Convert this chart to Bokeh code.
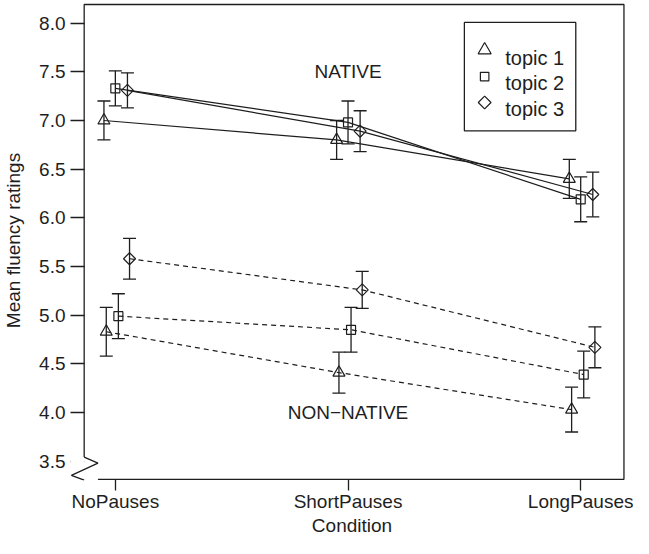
import math
from bokeh.plotting import figure
from bokeh.models import (ColumnDataSource, Whisker, TeeHead, Label, FixedTicker,
                          NumeralTickFormatter, Range1d, BoxAnnotation)
from bokeh.core.properties import value
from bokeh.embed import file_html
from bokeh.resources import INLINE

# ---------------- data ----------------
conditions = ["NoPauses", "ShortPauses", "LongPauses"]
topics = ["topic 1", "topic 2", "topic 3"]

native_topic1 = [7.00, 6.80, 6.40]
native_topic2 = [7.33, 6.98, 6.19]
native_topic3 = [7.31, 6.89, 6.24]
native_err1 = [0.20, 0.20, 0.20]
native_err2 = [0.18, 0.22, 0.23]
native_err3 = [0.18, 0.21, 0.23]

nonnative_topic1 = [4.83, 4.41, 4.03]
nonnative_topic2 = [4.99, 4.85, 4.39]
nonnative_topic3 = [5.58, 5.26, 4.67]
nonnative_err1 = [0.25, 0.21, 0.23]
nonnative_err2 = [0.23, 0.23, 0.24]
nonnative_err3 = [0.21, 0.19, 0.21]

y_ticks = [3.5, 4.0, 4.5, 5.0, 5.5, 6.0, 6.5, 7.0, 7.5, 8.0]
group_labels = ["NATIVE", "NON\u2212NATIVE"]

# ---------------- layout ----------------
W, H = 633, 538
SX, OX = 0.9867, -3.13            # reference px -> canvas px (horizontal)
SY, OY = 0.9969, -1.98            # reference px -> canvas px (vertical)
FL, FR, FT, FB = 68, 633, 0, 480  # frame edges in canvas px
INK = "#1e1e1e"
FONT = "Liberation Sans"
FS = "19px"


def rx(px):   # reference px -> data x
    return 1 + (px - 117.7) / 236.65


def ry(py):   # reference px -> data y
    return 4.0 - (py - 415.3) / 97.65


def cx_to_ref(c):
    return (c - OX) / SX


def cy_to_ref(c):
    return (c - OY) / SY


p = figure(width=W, height=H,
           x_range=Range1d(rx(cx_to_ref(FL)), rx(cx_to_ref(FR))),
           y_range=Range1d(ry(cy_to_ref(FB)), ry(cy_to_ref(FT))),
           output_backend="svg", toolbar_location=None,
           min_border_left=FL, min_border_right=W - FR,
           min_border_top=FT, min_border_bottom=H - FB)
p.outline_line_color = None
p.xgrid.visible = False
p.ygrid.visible = False
p.background_fill_color = "white"
p.border_fill_color = "white"

# axes
xa = p.xaxis[0]
xa.ticker = FixedTicker(ticks=[i + 1 for i in range(len(conditions))])
xa.major_label_overrides = {i + 1: c for i, c in enumerate(conditions)}
xa.major_tick_in = 1
xa.major_tick_out = 10
xa.minor_tick_line_color = None
xa.axis_line_color = None
xa.major_label_standoff = 0
xa.axis_label = "Condition"
xa.axis_label_standoff = 0

ya = p.yaxis[0]
ya.ticker = FixedTicker(ticks=y_ticks)
ya.formatter = NumeralTickFormatter(format="0.0")
ya.major_tick_in = 14
ya.major_tick_out = 0
ya.minor_tick_line_color = None
ya.axis_line_color = None
ya.major_label_standoff = 5
ya.axis_label = "Mean fluency ratings"
ya.axis_label_standoff = 12

for ax in (xa, ya):
    ax.major_tick_line_color = INK
    ax.major_tick_line_width = 1.3
    ax.major_label_text_font = FONT
    ax.major_label_text_font_size = FS
    ax.major_label_text_color = INK
    ax.axis_label_text_font = FONT
    ax.axis_label_text_font_size = FS
    ax.axis_label_text_font_style = "normal"
    ax.axis_label_text_color = INK

# the 3.5 level has a label but no tick (axis break there)
p.add_layout(BoxAnnotation(left=rx(70), right=rx(86.6), bottom=ry(466.5),
                           top=ry(462), fill_color="white", fill_alpha=1.0,
                           line_color=None))

# broken box around the plot region
box_kw = dict(line_color=INK, line_width=1.3)
p.line([rx(86), rx(86), rx(635), rx(635), rx(100)],
       [ry(460), ry(6), ry(6), ry(482.3), ry(482.3)], **box_kw)
p.line([rx(86), rx(100), rx(73), rx(86)],
       [ry(460), ry(466), ry(478.3), ry(483.2)], **box_kw)

# ---------------- series ----------------
shapes = [("triangle", 12, 0.0), ("square", 9, 0.0), ("square", 8.5, math.pi / 4)]
native_offsets = [-0.049, 0.0, 0.052]
nonnative_offsets = [-0.039, 0.013, 0.061]

groups = [
    ([native_topic1, native_topic2, native_topic3],
     [native_err1, native_err2, native_err3], native_offsets, "solid"),
    ([nonnative_topic1, nonnative_topic2, nonnative_topic3],
     [nonnative_err1, nonnative_err2, nonnative_err3], nonnative_offsets, "5 4"),
]

for means_list, errs_list, offsets, dash in groups:
    for t, (means, errs) in enumerate(zip(means_list, errs_list)):
        xs = [i + 1 + offsets[t] for i in range(len(conditions))]
        src = ColumnDataSource(dict(
            x=xs, y=means,
            upper=[m + e for m, e in zip(means, errs)],
            lower=[m - e for m, e in zip(means, errs)]))
        p.line("x", "y", source=src, line_color=INK, line_width=1.2,
               line_dash=dash)
        p.add_layout(Whisker(
            source=src, base="x", upper="upper", lower="lower",
            dimension="height", line_color=INK, line_width=1.3,
            upper_head=TeeHead(size=13, line_color=INK, line_width=1.3),
            lower_head=TeeHead(size=13, line_color=INK, line_width=1.3)))
        mk, sz, ang = shapes[t]
        p.scatter("x", "y", source=src, marker=mk, size=sz, angle=ang,
                  fill_color=None, line_color=INK, line_width=1.2)

# group labels
for txt, yv in zip(group_labels, [7.5, 4.0]):
    p.add_layout(Label(x=2, y=yv, text=txt, text_align="center",
                       text_baseline="middle", text_font=FONT,
                       text_font_size=FS, text_color=INK))

# ---------------- legend (drawn as box, keys and text) ----------------
p.quad(left=rx(472.7), right=rx(586), top=ry(24), bottom=ry(132.7),
       fill_color="white", line_color=INK, line_width=1.3)
key_y = [ry(51.7), ry(78.3), ry(104.3)]
key_sizes = [13, 8.5, 9]
for t in range(len(topics)):
    mk, _, ang = shapes[t]
    p.scatter([rx(493.3)], [key_y[t]], marker=mk, size=key_sizes[t], angle=ang,
              fill_color=None, line_color=INK, line_width=1.2)
p.text(x=[rx(514.3)] * len(topics), y=[ry(59.3), ry(85), ry(111)], text=topics,
       text_font=value(FONT), text_font_size=value("20px"), text_color=INK,
       text_align="left", text_baseline="alphabetic")

open("out.html", "w").write(file_html(p, INLINE))
